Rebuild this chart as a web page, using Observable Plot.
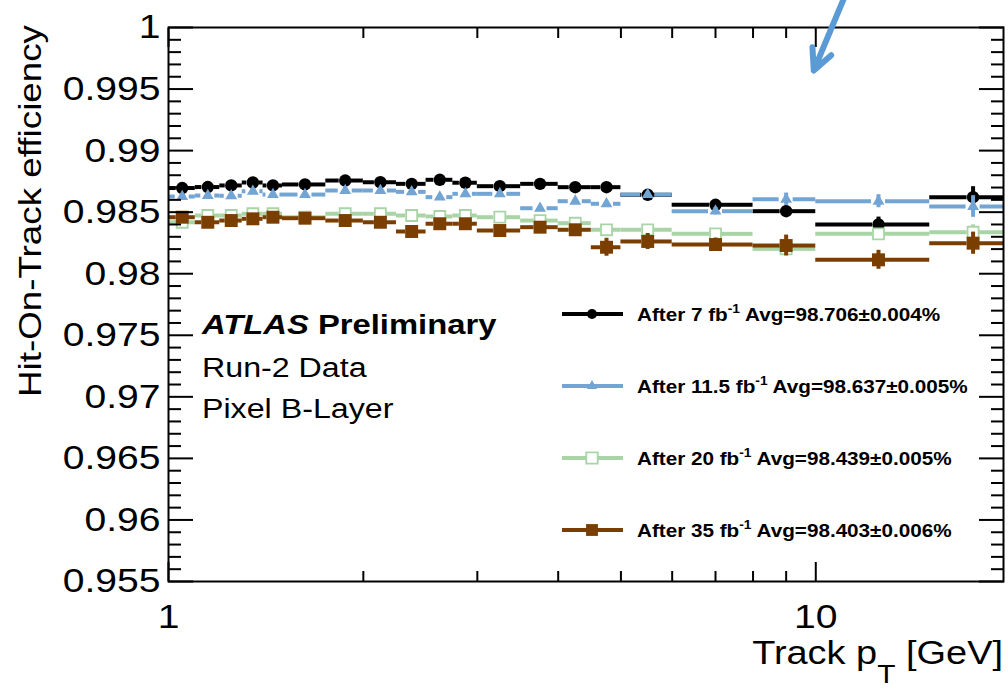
<!DOCTYPE html>
<html>
<head>
<meta charset="utf-8">
<script src="https://cdn.jsdelivr.net/npm/d3@7"></script>
<script src="https://cdn.jsdelivr.net/npm/@observablehq/plot@0.6"></script>
<style>
  html, body { margin: 0; padding: 0; background: #fff; }
  #chart { width: 1008px; height: 692px; overflow: hidden; }
</style>
</head>
<body>
<div id="chart"></div>
<script>
// Track pT bin edges [GeV]
const binEdges = [1, 1.1, 1.2, 1.3, 1.4, 1.5, 1.75, 2, 2.25, 2.5, 2.75, 3, 3.5, 4, 4.5, 5, 6, 8, 10, 15, 20];

// Hit-on-track efficiency per bin and its uncertainty, one pair per luminosity step
const eff7  = [0.98696, 0.98704, 0.98717, 0.98741, 0.98717, 0.98725, 0.98757, 0.98743, 0.98730, 0.98763,
               0.98739, 0.98711, 0.98730, 0.98703, 0.98703, 0.98641, 0.98560, 0.98508, 0.98400, 0.98622];
const err7  = [0.0001, 0.0001, 0.0001, 0.0001, 0.0001, 0.0001, 0.0001, 0.0001, 0.0001, 0.0001,
               0.0001, 0.0001, 0.00012, 0.00015, 0.00018, 0.0002, 0.00025, 0.0004, 0.0006, 0.00085];

const eff11 = [0.98627, 0.98635, 0.98633, 0.98670, 0.98643, 0.98643, 0.98676, 0.98676, 0.98665, 0.98622,
               0.98649, 0.98649, 0.98532, 0.98589, 0.98568, 0.98643, 0.98508, 0.98605, 0.98589, 0.98546];
const err11 = [0.0001, 0.0001, 0.0001, 0.0001, 0.0001, 0.0001, 0.0001, 0.0001, 0.0001, 0.0001,
               0.0001, 0.0001, 0.00012, 0.00015, 0.00018, 0.0002, 0.0003, 0.0005, 0.00053, 0.00088];

const eff20 = [0.98418, 0.98473, 0.98473, 0.98487, 0.98487, 0.98459, 0.98487, 0.98487, 0.98473, 0.98465,
               0.98473, 0.98459, 0.98432, 0.98410, 0.98357, 0.98357, 0.98324, 0.98202, 0.98324, 0.98337];
const err20 = [0.0001, 0.0001, 0.0001, 0.0001, 0.0001, 0.0001, 0.0001, 0.0001, 0.0001, 0.0001,
               0.0001, 0.0001, 0.00012, 0.00015, 0.00018, 0.0002, 0.0003, 0.0004, 0.0004, 0.0006];

const eff35 = [0.98459, 0.98418, 0.98432, 0.98446, 0.98459, 0.98451, 0.98432, 0.98418, 0.98343, 0.98406,
               0.98406, 0.98351, 0.98378, 0.98357, 0.98215, 0.98262, 0.98237, 0.98229, 0.98113, 0.98248];
const err35 = [0.0001, 0.0001, 0.0001, 0.0001, 0.0001, 0.0001, 0.0001, 0.0001, 0.0001, 0.0001,
               0.0001, 0.0001, 0.00015, 0.0002, 0.00073, 0.00065, 0.00053, 0.00085, 0.00077, 0.0009];

// Legend content
const lumiLabels = ["7", "11.5", "20", "35"];
const avgLabels = ["98.706\u00b10.004%", "98.637\u00b10.005%", "98.439\u00b10.005%", "98.403\u00b10.006%"];

// Axis ticks
const yTicks = [0.955, 0.96, 0.965, 0.97, 0.975, 0.98, 0.985, 0.99, 0.995, 1];
const yMinorTicks = d3.range(955, 1001).filter(d => d % 5 !== 0).map(d => d / 1000);
const xTicks = [1, 10];
const xMinorTicks = [2, 3, 4, 5, 6, 7, 8, 9];

// Annotation arrow (start -> tip)
const arrowNote = [{x1: 11.1, y1: 1.0026, x2: 9.93, y2: 0.99651}];

const FONT = "'Liberation Sans', Arial, Helvetica, sans-serif";
const STRETCH = 1.15;

function binRows(eff, err) {
  return eff.map((v, i) => ({
    lo: binEdges[i], hi: binEdges[i + 1],
    x: (binEdges[i] + binEdges[i + 1]) / 2,
    v, e: err[i]
  }));
}

const series = [
  {rows: binRows(eff7, err7),   color: "#000000", symbol: "circle",   r: 6.2, fill: "#000000", gap: 6},
  {rows: binRows(eff11, err11), color: "#72a4d4", symbol: "triangle", r: 4.4, fill: "#72a4d4", gap: 7},
  {rows: binRows(eff20, err20), color: "#a9d5a6", symbol: "square",   r: 6.2, fill: "white",   gap: 6},
  {rows: binRows(eff35, err35), color: "#7a3e00", symbol: "square",   r: 7.3, fill: "#7a3e00", gap: 6}
];

const seriesMarks = series.flatMap(s => [
  Plot.ruleY(s.rows, {x1: "lo", x2: "x", y: "v", insetRight: s.gap, stroke: s.color, strokeWidth: 4, clip: true}),
  Plot.ruleY(s.rows, {x1: "x", x2: "hi", y: "v", insetLeft: s.gap, stroke: s.color, strokeWidth: 4, clip: true}),
  Plot.ruleX(s.rows, {x: "x", y1: d => d.v - d.e, y2: d => d.v + d.e, stroke: s.color, strokeWidth: 4}),
  Plot.dot(s.rows, {x: "x", y: "v", symbol: s.symbol, r: s.r, fill: s.fill,
                    stroke: s.fill === "white" ? s.color : "none", strokeWidth: 1.8})
]);

const blank = () => "";

const plot = Plot.plot({
  width: 1008,
  height: 692,
  marginLeft: 168,
  marginRight: 5,
  marginTop: 27,
  marginBottom: 111,
  style: {fontFamily: FONT, background: "white", overflow: "visible"},
  x: {type: "log", domain: [1, 19.5]},
  y: {domain: [0.955, 1]},
  marks: [
    ...seriesMarks,
    // frame and inward-pointing ticks on all four sides
    Plot.frame({stroke: "black", strokeWidth: 2}),
    Plot.axisY({anchor: "left", ticks: yTicks, tickSize: 0, tickPadding: 8, label: null,
                tickFormat: d => String(+d.toFixed(3)), fontSize: 34}),
    Plot.axisY({anchor: "left", ticks: yTicks, tickSize: -25, tickFormat: blank, label: null, strokeWidth: 2}),
    Plot.axisY({anchor: "left", ticks: yMinorTicks, tickSize: -13, tickFormat: blank, label: null, strokeWidth: 2}),
    Plot.axisY({anchor: "right", ticks: yTicks, tickSize: -25, tickFormat: blank, label: null, strokeWidth: 2}),
    Plot.axisY({anchor: "right", ticks: yMinorTicks, tickSize: -13, tickFormat: blank, label: null, strokeWidth: 2}),
    Plot.axisX({anchor: "bottom", ticks: xTicks, tickSize: 0, tickPadding: 22, label: null,
                tickFormat: d => String(d), fontSize: 34}),
    Plot.axisX({anchor: "bottom", ticks: xTicks, tickSize: -19, tickFormat: blank, label: null, strokeWidth: 2}),
    Plot.axisX({anchor: "bottom", ticks: xMinorTicks, tickSize: -10, tickFormat: blank, label: null, strokeWidth: 2}),
    Plot.axisX({anchor: "top", ticks: xTicks, tickSize: -19, tickFormat: blank, label: null, strokeWidth: 2}),
    Plot.axisX({anchor: "top", ticks: xMinorTicks, tickSize: -10, tickFormat: blank, label: null, strokeWidth: 2}),
    // annotation arrow
    Plot.arrow(arrowNote, {x1: "x1", y1: "y1", x2: "x2", y2: "y2", stroke: "#5b9bd5", strokeWidth: 6,
                           headLength: 5.8, headAngle: 52, strokeLinecap: "round", strokeLinejoin: "round"})
  ]
});

document.getElementById("chart").appendChild(plot);

const svg = d3.select(plot);

// Helvetica-like glyphs are drawn slightly wider than Liberation Sans
svg.selectAll("text").each(function () {
  const t = this.getAttribute("transform");
  if (t) this.setAttribute("transform", `${t} scale(${STRETCH},1)`);
});

const layer = svg.append("g")
  .attr("font-family", FONT)
  .attr("fill", "black")
  .attr("text-anchor", "start");

// Axis titles
layer.append("text")
  .attr("transform", `translate(41,25) rotate(-90) scale(${STRETCH},1)`)
  .attr("text-anchor", "end")
  .attr("font-size", 32)
  .text("Hit-On-Track efficiency");

const xTitle = layer.append("text")
  .attr("transform", `translate(1003,664) scale(${STRETCH},1)`)
  .attr("text-anchor", "end")
  .attr("font-size", 33);
xTitle.append("tspan").text("Track p");
xTitle.append("tspan").attr("font-size", 26).attr("dy", 19).text("T");
xTitle.append("tspan").attr("dy", -19).text(" [GeV]");

// Experiment label
const atlas = layer.append("text")
  .attr("transform", `translate(202,334) scale(${STRETCH},1)`)
  .attr("font-size", 28.5)
  .attr("font-weight", "bold");
atlas.append("tspan").attr("font-style", "italic").text("ATLAS");
atlas.append("tspan").text(" Preliminary");

layer.append("text")
  .attr("transform", `translate(202,377) scale(${STRETCH},1)`)
  .attr("font-size", 28)
  .text("Run-2 Data");
layer.append("text")
  .attr("transform", `translate(202,418) scale(${STRETCH},1)`)
  .attr("font-size", 28)
  .text("Pixel B-Layer");

// Legend
const legendSymbols = [
  {type: d3.symbolCircle, size: Math.PI * 25},
  {type: d3.symbolTriangle, size: 45},
  {type: d3.symbolSquare, size: 130},
  {type: d3.symbolSquare, size: 140}
];
series.forEach((s, i) => {
  const y = 314 + i * 72;
  const g = layer.append("g");
  g.append("line").attr("x1", 562).attr("x2", 623).attr("y1", y).attr("y2", y)
    .attr("stroke", s.color).attr("stroke-width", 4);
  g.append("path")
    .attr("transform", `translate(592,${y})`)
    .attr("d", d3.symbol(legendSymbols[i].type, legendSymbols[i].size)())
    .attr("fill", s.fill)
    .attr("stroke", s.fill === "white" ? s.color : "none")
    .attr("stroke-width", 1.8);
  const t = g.append("text")
    .attr("transform", `translate(637,${y + 7}) scale(${STRETCH},1)`)
    .attr("font-size", 18)
    .attr("font-weight", "bold");
  t.append("tspan").text(`After ${lumiLabels[i]} fb`);
  t.append("tspan").attr("font-size", 12).attr("dy", -8).text("-1");
  t.append("tspan").attr("dy", 8).text(` Avg=${avgLabels[i]}`);
});
</script>
</body>
</html>
